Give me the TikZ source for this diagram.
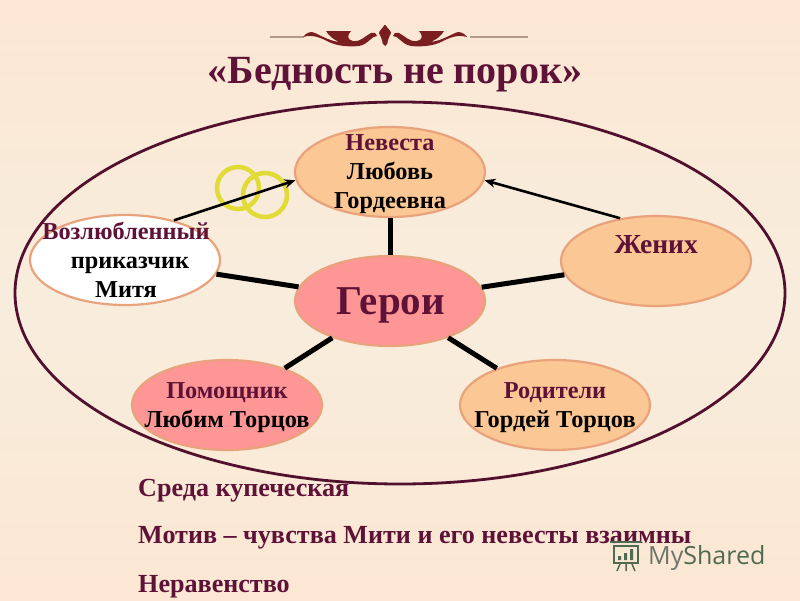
\documentclass[tikz,border=0pt]{standalone}
\usepackage{fontspec}
\setmainfont{Liberation Serif}
\newfontfamily\wmfont{Open Sans}
\usetikzlibrary{shapes.geometric,arrows.meta}
\definecolor{bgedge}{HTML}{FBE7D3}
\definecolor{bgmid}{HTML}{F8EDDD}
\definecolor{plum}{HTML}{5E1238}
\definecolor{ringline}{HTML}{52102F}
\definecolor{peach}{HTML}{FBC794}
\definecolor{rosy}{HTML}{FF9696}
\definecolor{rimline}{HTML}{E8A27C}
\definecolor{ringyellow}{HTML}{E2DA35}
\definecolor{ornament}{HTML}{7A1E20}
\definecolor{orline}{HTML}{B39A88}
\definecolor{wmgrey}{HTML}{6E7468}
\definecolor{wmgreen}{HTML}{4F6A50}
\tikzset{
  x=1pt,y=-1pt,
  blob/.style={ellipse,draw=rimline,line width=2.2pt,minimum width=190pt,minimum height=90pt,inner sep=0pt},
  spoke/.style={line width=5pt,black},
  pointer/.style={line width=2.6pt,black,-{Stealth[length=11pt,width=9pt]}},
  label/.style={font=\bfseries\fontsize{24.3}{29}\selectfont,align=center,inner sep=0pt},
  plain/.style={font=\bfseries\fontsize{26.1}{31}\selectfont,text=plum,anchor=base west,inner sep=0pt},
  ring/.style={draw=ringyellow,line width=4.5pt},
}
\begin{document}
\begin{tikzpicture}
\useasboundingbox (0,0) rectangle (800,600);
\shade[top color=bgedge,bottom color=bgedge,middle color=bgmid] (0,0) rectangle (800,600);
% ornament
\draw[orline,line width=1.2pt] (270,37) -- (304,37);
\draw[orline,line width=1.2pt] (470,37) -- (528,37);
\foreach \s in {1,-1}{
\begin{scope}[shift={(385,0)},xscale=\s]
\fill[ornament] (-82,37) .. controls (-78,32) and (-74,31) .. (-70,33) .. controls (-62,37) and (-54,41) .. (-46,42) .. controls (-52,39) and (-56,36) .. (-59,31) -- (-34,31) .. controls (-38,35) and (-38,40) .. (-32,41) .. controls (-24,42) and (-20,36) .. (-14,33) .. controls (-10,32) and (-8,34) .. (-8,36) .. controls (-14,36) and (-16,44) .. (-26,46) .. controls (-36,47) and (-48,46) .. (-56,42) .. controls (-64,38) and (-72,34) .. (-82,37) -- cycle;
\fill[ornament] (-0.5,25) .. controls (-3,29) and (-6,31) .. (-6,33) .. controls (-6,35) and (-3,37) .. (-3,40) .. controls (-3,43) and (-2,45) .. (0,46) -- (0,25) -- cycle;
\end{scope}}
\node[font=\bfseries\fontsize{40}{48}\selectfont,text=plum,inner sep=0pt,anchor=base] (title) at (395,83) {«Бедность не порок»};
% big ring
\node[ellipse,draw=ringline,line width=2.8pt,minimum width=770pt,minimum height=382pt,inner sep=0pt] (world) at (400,293) {};
% wedding rings
\node[circle,ring,minimum size=42pt,inner sep=0pt] (ringa) at (238,188) {};
\node[circle,ring,minimum size=44pt,inner sep=0pt] (ringb) at (265,195) {};
% ellipses
\node[blob,fill=peach] (bride) at (390,172) {};
\node[blob,fill=rosy] (hero) at (390,301) {};
\node[blob,fill=white] (lover) at (125,260) {};
\node[blob,fill=peach] (groom) at (656,261) {};
\node[blob,fill=rosy] (helper) at (227,405) {};
\node[blob,fill=peach] (parents) at (555,405) {};
% connectors
\draw[spoke] (hero) -- (bride);
\draw[spoke] (hero) -- (lover);
\draw[spoke] (hero) -- (groom);
\draw[spoke] (hero) -- (helper);
\draw[spoke] (hero) -- (parents);
\draw[pointer] (lover.39) -- (bride.185);
\draw[pointer] (groom.130) -- (bride.-5);
% labels
\node[label] (tbride) at (390,174) {\textcolor{plum}{Невеста}\\Любовь\\Гордеевна};
\node[label] (tlover) at (126,259.5) {\textcolor{plum}{Возлюбленный}\\\hspace*{8pt}приказчик\\Митя};
\node[label,font=\bfseries\fontsize{27.5}{29}\selectfont] (tgroom) at (656,245) {\textcolor{plum}{Жених}};
\node[label] (thelper) at (227,408) {\textcolor{plum}{Помощник}\\Любим Торцов};
\node[label] (tparents) at (555,408) {\textcolor{plum}{Родители}\\Гордей Торцов};
\node[font=\bfseries\fontsize{41}{48}\selectfont,text=plum,inner sep=0pt] (thero) at (391,305) {Герои};
\node[plain] (t1) at (138,496) {Среда купеческая};
\node[plain] (t2) at (138,543) {Мотив – чувства Мити и его невесты взаимны};
\node[plain] (t3) at (138,592) {Неравенство};
% watermark
\node[font=\wmfont\fontsize{25}{30}\selectfont,text=wmgrey,inner sep=0pt,anchor=base west] (wm) at (648,564) {My\textcolor{wmgreen}{Shared}};
\draw[wmgreen,line width=1.8pt] (614,546) rectangle (638,563);
\draw[wmgreen,line width=1.8pt] (610,542) -- (641,542);
\draw[wmgreen,line width=1.5pt] (620,564) -- (617,571) (626,564) -- (626,571) (632,564) -- (635,571);
\fill[wmgreen] (618,556) rectangle (621,560) (624,553) rectangle (627,560) (630,549) rectangle (633,560);
\end{tikzpicture}
\end{document}
